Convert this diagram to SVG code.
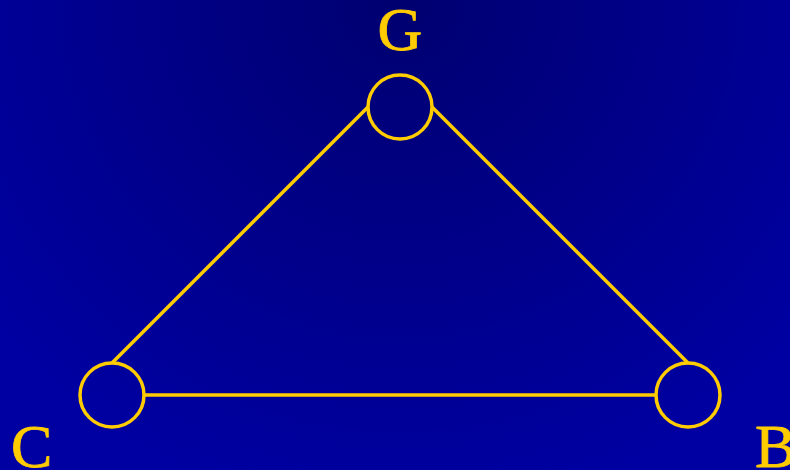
<svg xmlns="http://www.w3.org/2000/svg" width="790" height="470" viewBox="0 0 790 470">
<defs>
<radialGradient id="bg" cx="400" cy="0" r="520" gradientUnits="userSpaceOnUse">
<stop offset="0" stop-color="#000070"/>
<stop offset="1" stop-color="#0000A2"/>
</radialGradient>
<style>
.n{fill:none;stroke:#FFCC00;stroke-width:3.5}
.e{stroke:#FFCC00;stroke-width:3.5;fill:none}
.t{fill:#FFCC00;stroke:#FFCC00;stroke-width:0.8;font-family:"Liberation Serif","Times New Roman",serif;font-size:62px}
</style>
</defs>
<rect width="790" height="470" fill="url(#bg)"/>
<g id="edges">
<line class="e" x1="368" y1="107" x2="112" y2="363"/>
<line class="e" x1="432" y1="107" x2="688" y2="363"/>
<line class="e" x1="144" y1="395" x2="656" y2="395"/>
</g>
<g id="G">
<circle class="n" cx="400" cy="107" r="32"/>
<text class="t" x="400" y="50" text-anchor="middle">G</text>
</g>
<g id="C">
<circle class="n" cx="112" cy="395" r="32"/>
<text class="t" x="11" y="467">C</text>
</g>
<g id="B">
<circle class="n" cx="688" cy="395" r="32"/>
<text class="t" x="755" y="467">B</text>
</g>
</svg>
